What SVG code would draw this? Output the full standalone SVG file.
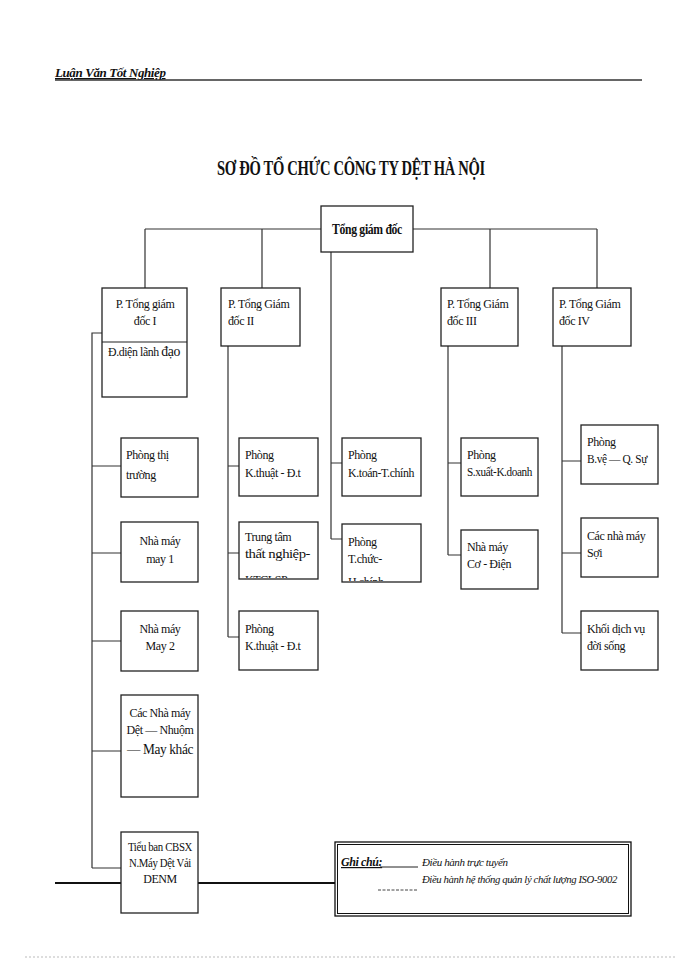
<svg xmlns="http://www.w3.org/2000/svg" width="700" height="960" viewBox="0 0 700 960">
<style>
text{font-family:"Liberation Serif","Times New Roman",serif;fill:#111;font-size:12px;letter-spacing:-0.4px}
.b{fill:#fff;stroke:#222;stroke-width:1.3}
.c{fill:none;stroke:#333;stroke-width:1.2}
.m{text-anchor:middle}
</style>
<defs>
<clipPath id="k1"><rect x="239" y="522" width="79" height="56"/></clipPath>
<clipPath id="k2"><rect x="342" y="524" width="79" height="57"/></clipPath>
</defs>
<rect width="700" height="960" fill="#fff"/>
<text x="55" y="77" style="font-style:italic;font-weight:bold;font-size:13px;text-decoration:underline">Luận Văn Tốt Nghiệp</text>
<line x1="55" y1="80" x2="642" y2="80" stroke="#333" stroke-width="1.3"/>
<text x="351" y="175" class="m" style="font-weight:bold;font-size:20px" textLength="268" lengthAdjust="spacingAndGlyphs">SƠ ĐỒ TỔ CHỨC CÔNG TY DỆT HÀ NỘI</text>
<line x1="25" y1="957" x2="675" y2="957" stroke="#bbb" stroke-dasharray="2,2"/>
<g id="connectors" class="c">
<path d="M145 229H597M145 229V288M262 229V288M490 229V288M597 229V288M331 252V539"/>
<path d="M102 333H92V868M92 466H121M92 553H121M92 641H121M92 751H121M92 868H121"/>
<path d="M228 346V637M228 466H239M228 553H239M228 637H239"/>
<path d="M331 463H342M331 539H342"/>
<path d="M448 346V555M448 463H461M448 555H461"/>
<path d="M562 346V633M562 461H581M562 553H581M562 633H581"/>
<path d="M55 883H121M198 883H335" stroke-width="2.2" stroke="#111"/>
</g>
<g id="tgd"><rect class="b" x="321" y="206" width="92" height="46"/><text x="367" y="234" class="m" style="font-weight:bold;font-size:15px" textLength="70" lengthAdjust="spacingAndGlyphs">Tổng giám đốc</text></g>
<g id="p1"><rect class="b" x="102" y="288" width="85" height="109"/><line x1="102" y1="342" x2="187" y2="342" stroke="#222" stroke-width="1.2"/><text x="145" y="308" class="m">P. Tổng giám</text><text x="145" y="325" class="m">đốc I</text><text x="108" y="356" textLength="72" lengthAdjust="spacingAndGlyphs">Đ.diện lãnh <tspan style="font-size:14px">đạo</tspan></text></g>
<g id="p2"><rect class="b" x="221" y="288" width="79" height="58"/><text x="228" y="308">P. Tổng Giám</text><text x="228" y="325">đốc II</text></g>
<g id="p3"><rect class="b" x="441" y="288" width="77" height="58"/><text x="447" y="308">P. Tổng Giám</text><text x="447" y="325">đốc III</text></g>
<g id="p4"><rect class="b" x="553" y="288" width="78" height="58"/><text x="559" y="308">P. Tổng Giám</text><text x="559" y="325">đốc IV</text></g>
<g id="a1"><rect class="b" x="121" y="438" width="77" height="59"/><text x="126" y="459">Phòng thị</text><text x="126" y="479">trường</text></g>
<g id="a2"><rect class="b" x="121" y="522" width="77" height="60"/><text x="160" y="545" class="m">Nhà máy</text><text x="160" y="563" class="m">may 1</text></g>
<g id="a3"><rect class="b" x="121" y="611" width="77" height="60"/><text x="160" y="633" class="m">Nhà máy</text><text x="160" y="650" class="m">May 2</text></g>
<g id="a4"><rect class="b" x="121" y="695" width="77" height="102"/><text x="160" y="717" class="m">Các Nhà máy</text><text x="160" y="734" class="m">Dệt — Nhuộm</text><text x="160" y="754" class="m" style="font-size:14px" textLength="66" lengthAdjust="spacingAndGlyphs">— May khác</text></g>
<g id="a5"><rect class="b" x="121" y="832" width="77" height="81"/><text x="160" y="851" class="m" textLength="64" lengthAdjust="spacingAndGlyphs">Tiểu ban CBSX</text><text x="160" y="867" class="m" textLength="62" lengthAdjust="spacingAndGlyphs">N.Máy Dệt Vải</text><text x="160" y="883" class="m">DENM</text></g>
<g id="b1"><rect class="b" x="239" y="438" width="79" height="58"/><text x="245" y="459">Phòng</text><text x="245" y="477">K.thuật - Đ.t</text></g>
<g id="b2"><rect class="b" x="239" y="522" width="79" height="57"/><g clip-path="url(#k1)"><text x="245" y="541">Trung tâm</text><text x="245" y="558" textLength="65" lengthAdjust="spacingAndGlyphs">thất nghiệp-</text><text x="245" y="584">KTCLSP</text></g></g>
<g id="b3"><rect class="b" x="239" y="611" width="79" height="59"/><text x="245" y="633">Phòng</text><text x="245" y="650">K.thuật - Đ.t</text></g>
<g id="c1"><rect class="b" x="342" y="438" width="79" height="58"/><text x="348" y="459">Phòng</text><text x="348" y="477" textLength="66" lengthAdjust="spacingAndGlyphs">K.toán-T.chính</text></g>
<g id="c2"><rect class="b" x="342" y="524" width="79" height="58"/><g clip-path="url(#k2)"><text x="348" y="546">Phòng</text><text x="348" y="563">T.chức-</text><text x="348" y="586">H.chính</text></g></g>
<g id="d1"><rect class="b" x="461" y="438" width="77" height="58"/><text x="467" y="459">Phòng</text><text x="467" y="476" textLength="65" lengthAdjust="spacingAndGlyphs">S.xuất-K.doanh</text></g>
<g id="d2"><rect class="b" x="461" y="530" width="77" height="59"/><text x="467" y="551">Nhà máy</text><text x="467" y="568">Cơ - Điện</text></g>
<g id="e1"><rect class="b" x="581" y="425" width="77" height="59"/><text x="587" y="446">Phòng</text><text x="587" y="463" textLength="60" lengthAdjust="spacingAndGlyphs">B.vệ — Q. Sự</text></g>
<g id="e2"><rect class="b" x="581" y="518" width="77" height="59"/><text x="587" y="540">Các nhà máy</text><text x="587" y="557">Sợi</text></g>
<g id="e3"><rect class="b" x="581" y="611" width="77" height="59"/><text x="587" y="633">Khối dịch vụ</text><text x="587" y="650">đời sống</text></g>
<g id="legend">
<rect x="335" y="842" width="296" height="74" fill="#fff" stroke="#111" stroke-width="1.3"/>
<rect x="337.5" y="844.5" width="291" height="69" fill="none" stroke="#111" stroke-width="1"/>
<text x="341" y="866" style="font-style:italic;font-weight:bold;text-decoration:underline">Ghi chú:</text>
<line x1="380" y1="867" x2="418" y2="867" stroke="#222" stroke-width="1"/>
<text x="422" y="866" style="font-style:italic;font-size:11px">Điều hành trực tuyến</text>
<line x1="378" y1="890" x2="418" y2="890" stroke="#444" stroke-width="1" stroke-dasharray="3,1.5"/>
<text x="422" y="883" style="font-style:italic;font-size:11px" textLength="195" lengthAdjust="spacingAndGlyphs">Điều hành hệ thống quản lý chất lượng   ISO-9002</text>
</g>
</svg>
